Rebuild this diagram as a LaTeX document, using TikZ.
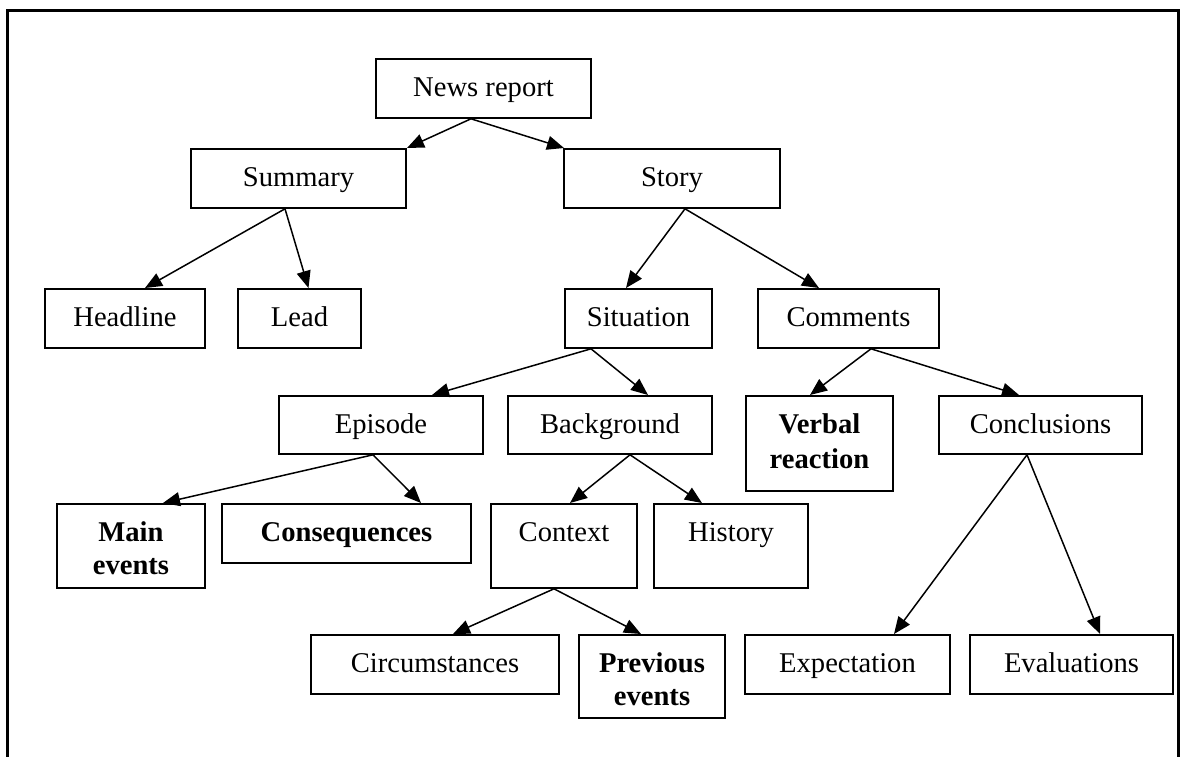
\documentclass[tikz,border=0pt]{standalone}
\usepackage{fontspec}
\setmainfont{Liberation Serif}
\usetikzlibrary{arrows.meta}
\begin{document}
\begin{tikzpicture}[x=1pt,y=-1pt,
  box/.style={draw, line width=1.8pt, anchor=north, inner xsep=0pt, inner ysep=0pt,
    text height=38pt, font=\fontsize{28.6}{34}\selectfont},
  arr/.style={line width=1.5pt, -{Triangle[length=17pt,width=14pt]}},
  two/.style={box, font=\fontsize{28.6}{33}\selectfont\bfseries}]
\useasboundingbox (0,0) rectangle (1180,756);
\draw[line width=3pt] (7.5,770) -- (7.5,10.5) -- (1178.5,10.5) -- (1178.5,770);

\node[box, minimum width=215pt, text depth=21pt] (news) at (483.5,58) {News report};
\node[box, minimum width=215pt, text depth=21pt] (summary) at (298.5,148) {Summary};
\node[box, minimum width=216pt, text depth=21pt] (story) at (672,148) {Story};
\node[box, minimum width=160pt, text depth=21pt] (headline) at (125,288) {Headline};
\node[box, minimum width=123pt, text depth=21pt] (lead) at (299.5,288) {Lead};
\node[box, minimum width=147pt, text depth=21pt] (situation) at (638.5,288) {Situation};
\node[box, minimum width=181pt, text depth=21pt] (comments) at (848.5,288) {Comments};
\node[box, minimum width=204pt, text depth=20pt] (episode) at (381,395) {Episode};
\node[box, minimum width=204pt, text depth=20pt] (background) at (610,395) {Background};
\node[two, font=\fontsize{28.6}{35}\selectfont\bfseries, minimum width=147pt, text depth=57pt] (verbal) at (819.5,395)
  {\begin{tabular}[t]{@{}c@{}}Verbal\\reaction\end{tabular}};
\node[box, minimum width=203pt, text depth=20pt] (conclusions) at (1040.5,395) {Conclusions};
\node[two, minimum width=148pt, text depth=46pt] (main) at (131,503)
  {\begin{tabular}[t]{@{}c@{}}Main\\events\end{tabular}};
\node[box, font=\fontsize{28.6}{34}\selectfont\bfseries, minimum width=249pt, text depth=21pt] (conseq) at (346.5,503) {Consequences};
\node[box, minimum width=146pt, text depth=46pt] (context) at (564,503) {Context};
\node[box, minimum width=154pt, text depth=46pt] (history) at (731,503) {History};
\node[box, minimum width=248pt, text depth=21pt] (circ) at (435,634) {Circumstances};
\node[two, minimum width=146pt, text depth=45pt] (prev) at (652,634)
  {\begin{tabular}[t]{@{}c@{}}Previous\\events\end{tabular}};
\node[box, minimum width=205pt, text depth=21pt] (expect) at (847.5,634) {Expectation};
\node[box, minimum width=203pt, text depth=21pt] (eval) at (1071.5,634) {Evaluations};

\draw[arr] ([xshift=-12.5pt]news.south) -- ([xshift=108.5pt]summary.north);
\draw[arr] ([xshift=-12.5pt]news.south) -- ([xshift=-108pt]story.north);
\draw[arr] ([xshift=-13.5pt]summary.south) -- ([xshift=20pt]headline.north);
\draw[arr] ([xshift=-13.5pt]summary.south) -- ([xshift=9pt]lead.north);
\draw[arr] ([xshift=13pt]story.south) -- ([xshift=-12.5pt]situation.north);
\draw[arr] ([xshift=13pt]story.south) -- ([xshift=-29.5pt]comments.north);
\draw[arr] ([xshift=-47.5pt]situation.south) -- ([xshift=51pt]episode.north);
\draw[arr] ([xshift=-47.5pt]situation.south) -- ([xshift=38pt]background.north);
\draw[arr] ([xshift=22.5pt]comments.south) -- ([xshift=-9.5pt]verbal.north);
\draw[arr] ([xshift=22.5pt]comments.south) -- ([xshift=-21.5pt]conclusions.north);
\draw[arr] ([xshift=-8pt]episode.south) -- ([xshift=32pt]main.north);
\draw[arr] ([xshift=-8pt]episode.south) -- ([xshift=74.5pt]conseq.north);
\draw[arr] ([xshift=20pt]background.south) -- ([xshift=6pt]context.north);
\draw[arr] ([xshift=20pt]background.south) -- ([xshift=-29pt]history.north);
\draw[arr] ([xshift=-13.5pt]conclusions.south) -- ([xshift=46.5pt]expect.north);
\draw[arr] ([xshift=-13.5pt]conclusions.south) -- ([xshift=28.5pt]eval.north);
\draw[arr] ([xshift=-10pt]context.south) -- ([xshift=18pt]circ.north);
\draw[arr] ([xshift=-10pt]context.south) -- ([xshift=-11pt]prev.north);
\end{tikzpicture}
\end{document}
